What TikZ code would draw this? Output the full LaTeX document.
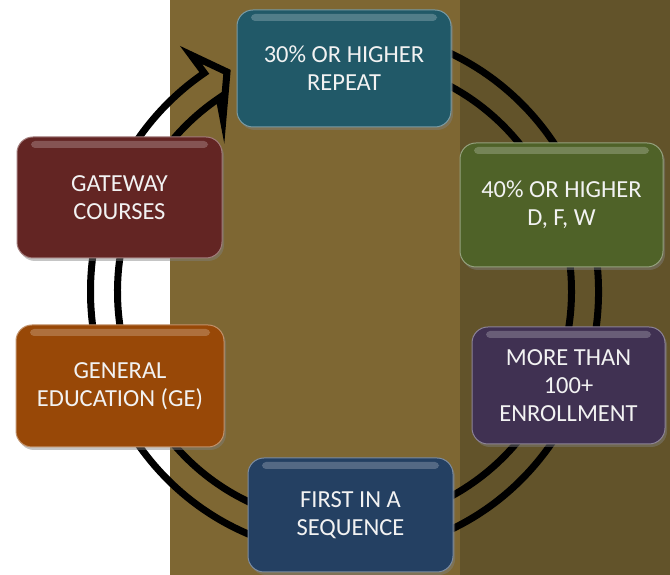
\documentclass[tikz,border=0pt]{standalone}
\usepackage{fontspec}
\setmainfont{Carlito}
\usetikzlibrary{calc, shadows}
\definecolor{panelolive}{HTML}{7E6733}
\definecolor{paneldark}{HTML}{62532A}
\definecolor{repeatteal}{HTML}{215968}
\definecolor{dfwgreen}{HTML}{4F6228}
\definecolor{enrollpurple}{HTML}{403152}
\definecolor{seqnavy}{HTML}{244062}
\definecolor{georange}{HTML}{984807}
\definecolor{gatemaroon}{HTML}{632523}
\definecolor{labelwhite}{HTML}{F2F2F2}

\begin{document}
\begin{tikzpicture}[x=1pt, y=1pt,
    criterion/.style={rectangle, rounded corners=16pt, fill=#1, draw=#1!60!white, line width=1pt,
      inner sep=0pt, align=center, text=labelwhite, font=\fontsize{24.5}{28}\selectfont,
      drop shadow={opacity=0.45, shadow xshift=2pt, shadow yshift=-3pt},
      path picture={
        \fill[white, opacity=0.22, rounded corners=4pt]
          ([xshift=14pt, yshift=-4pt]path picture bounding box.north west)
          rectangle ([xshift=-14pt, yshift=-11pt]path picture bounding box.north east);
      }},
    ring/.style={draw=black, line width=7pt, line join=miter}]

    % backdrop panels
    \useasboundingbox (0,0) rectangle (670,575);
    \fill[white] (0,0) rectangle (170,575);
    \fill[panelolive] (170,0) rectangle (460,575);
    \fill[paneldark] (460,0) rectangle (670,575);

    % hollow circular arrow behind the boxes
    \coordinate (hub) at (344.5,283.5);
    \coordinate (barbout) at (191,520);
    \coordinate (tip) at (227,503);
    \coordinate (barbin) at (223,457);
    \draw [ring] ($(hub)+(100:254 and 262)$) arc [start angle=100, end angle=-236.5, x radius=254, y radius=262]
      -- (barbout) -- (tip) -- (barbin)
      -- ($(hub)+(123.5:227 and 232)$) arc [start angle=-236.5, end angle=100, x radius=227, y radius=232]
      -- cycle;

    \node (repeat) [criterion=repeatteal, minimum width=214pt, minimum height=117pt] at (344,506.5) {30\% OR HIGHER\\REPEAT};
    \node (dfw) [criterion=dfwgreen, minimum width=203pt, minimum height=124pt] at (561.5,370) {40\% OR HIGHER\\D, F, W};
    \node (enroll) [criterion=enrollpurple, minimum width=193pt, minimum height=117pt] at (568.5,189.5) {MORE THAN\\100+\\ENROLLMENT};
    \node (sequence) [criterion=seqnavy, minimum width=205pt, minimum height=114pt] at (350.5,60) {FIRST IN A\\SEQUENCE};
    \node (gened) [criterion=georange, minimum width=208pt, minimum height=122pt] at (120,189) {GENERAL\\EDUCATION (GE)};
    \node (gateway) [criterion=gatemaroon, minimum width=205pt, minimum height=121pt] at (119.5,377.5) {GATEWAY\\COURSES};
\end{tikzpicture}
\end{document}
